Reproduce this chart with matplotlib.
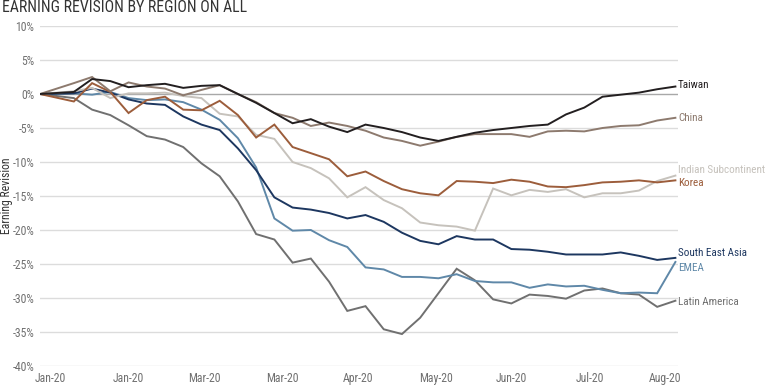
import numpy as np
import pandas as pd
import matplotlib
matplotlib.use('Agg')
import matplotlib.pyplot as plt
from matplotlib.ticker import FuncFormatter

plt.rcParams['font.family'] = ['Roboto Condensed', 'Roboto', 'DejaVu Sans']

# weekly observations, first one at the start of the year
dates = pd.to_datetime(['2020-01-01']).append(pd.date_range('2020-01-14', periods=34, freq='7D'))

taiwan = [0, 0.3, 2.2, 1.9, 1.0, 1.3, 1.5, 0.9, 1.2, 1.3, 0.0, -1.3, -2.8, -4.3, -3.7, -4.8, -5.6,
          -4.5, -5.0, -5.6, -6.4, -6.9, -6.3, -5.7, -5.3, -5.0, -4.7, -4.5, -3.0, -2.0, -0.4, -0.1,
          0.2, 0.7, 1.1]
china = [0, 1.6, 2.5, 0.4, 1.7, 1.1, 0.8, -0.2, 0.6, 1.3, 0.0, -1.2, -2.8, -3.5, -4.7, -4.2, -4.7,
         -5.4, -6.4, -6.9, -7.6, -7.0, -6.3, -5.9, -5.9, -5.9, -6.3, -5.5, -5.4, -5.5, -5.0, -4.7,
         -4.6, -3.9, -3.5]
indian = [0, 0.4, 0.9, -0.6, 0.1, 0.1, 0.2, -0.3, -0.6, -2.9, -3.3, -6.0, -6.6, -10.0, -10.9, -12.4,
          -15.2, -13.7, -15.6, -16.8, -18.9, -19.3, -19.5, -20.1, -13.9, -14.9, -14.1, -14.4, -14.0,
          -15.2, -14.6, -14.6, -14.2, -12.8, -12.0]
korea = [0, -1.1, 1.6, 0.3, -2.8, -0.9, -0.4, -2.3, -2.4, -1.0, -3.1, -6.4, -4.5, -7.8, -8.7, -9.6,
         -12.1, -11.4, -12.8, -14.0, -14.6, -14.9, -12.8, -12.9, -13.1, -12.6, -12.9, -13.6, -13.7,
         -13.4, -13.0, -12.9, -12.7, -13.0, -12.7]
sea = [0, 0.1, 0.8, 0.2, -0.8, -1.4, -1.6, -3.3, -4.5, -5.3, -8.0, -11.2, -15.2, -16.7, -17.0, -17.5,
       -18.3, -17.8, -18.8, -20.4, -21.6, -22.1, -20.9, -21.4, -21.4, -22.8, -22.9, -23.2, -23.6,
       -23.6, -23.6, -23.3, -23.8, -24.4, -24.1]
emea = [0, 0.1, -0.1, 0.3, -0.6, -0.9, -0.8, -1.2, -2.3, -3.8, -6.5, -10.8, -18.3, -20.1, -20.0, -21.5,
        -22.5, -25.5, -25.8, -26.9, -26.9, -27.1, -26.5, -27.5, -27.7, -27.7, -28.5, -28.0, -28.3,
        -28.2, -28.8, -29.3, -29.2, -29.3, -24.7]
latam = [0, -0.6, -2.3, -3.1, -4.6, -6.2, -6.7, -7.8, -10.2, -12.1, -15.8, -20.6, -21.4, -24.8, -24.2,
         -27.6, -31.9, -31.2, -34.6, -35.3, -32.9, -29.3, -25.7, -27.4, -30.2, -30.8, -29.5, -29.7,
         -30.1, -28.9, -28.6, -29.3, -29.5, -31.3, -30.4]

tick_dates = ['2020-01-05', '2020-02-04', '2020-03-04', '2020-04-03', '2020-05-02',
              '2020-06-01', '2020-06-30', '2020-07-30', '2020-08-28']
tick_labels = ['Jan-20', 'Jan-20', 'Mar-20', 'Mar-20', 'Apr-20', 'May-20', 'Jun-20', 'Jul-20', 'Aug-20']

# name, values, colour, label shift in % points (to keep end labels apart)
series = [
    ('Latin America', latam, '#707070', -0.2),
    ('EMEA', emea, '#5f88a8', -0.9),
    ('South East Asia', sea, '#1d3760', 0.7),
    ('Indian Subcontinent', indian, '#c6c2bc', 0.8),
    ('Korea', korea, '#9c5d3b', -0.4),
    ('China', china, '#8d7a6e', 0.0),
    ('Taiwan', taiwan, '#231f20', 0.2),
]

fig = plt.figure(figsize=(7.65, 3.86), dpi=100)
ax = fig.add_axes([40 / 765, 1 - 366 / 386, 638 / 765, 340 / 386])

for name, vals, color, shift in series:
    ax.plot(dates, vals, color=color, lw=1.4, solid_joinstyle='miter')
    ax.annotate(name, xy=(dates[-1], vals[-1] + shift), xytext=(2, 0), textcoords='offset points',
                color=color, fontsize=8, va='center', ha='left', annotation_clip=False)

ax.set_ylim(-40, 10)
ax.set_yticks(np.arange(-40, 11, 5))
ax.yaxis.set_major_formatter(FuncFormatter(lambda v, p: f'{v:.0f}%'))
ax.set_xlim(pd.Timestamp('2020-01-01'), pd.Timestamp('2020-09-02'))
ax.set_xticks(pd.to_datetime(tick_dates))
ax.set_xticklabels(tick_labels)

for v in np.arange(-40, 11, 5):
    ax.axhline(v, color='#a8a8a8' if v == 0 else '#dcdcdc', lw=1, zorder=0)

for s in ax.spines.values():
    s.set_visible(False)
ax.tick_params(length=0, labelsize=8.5, colors='#707070', pad=4)
ax.set_ylabel('Earning Revision', fontsize=8.5, color='#333333')
ax.yaxis.set_label_coords(-27 / 638, 0.5)

fig.text(2 / 765, 1 - 8 / 386, 'EARNING REVISION BY REGION ON ALL', fontsize=11.3, color='#333333',
         va='center', ha='left')

fig.savefig('out.png', dpi=100)
